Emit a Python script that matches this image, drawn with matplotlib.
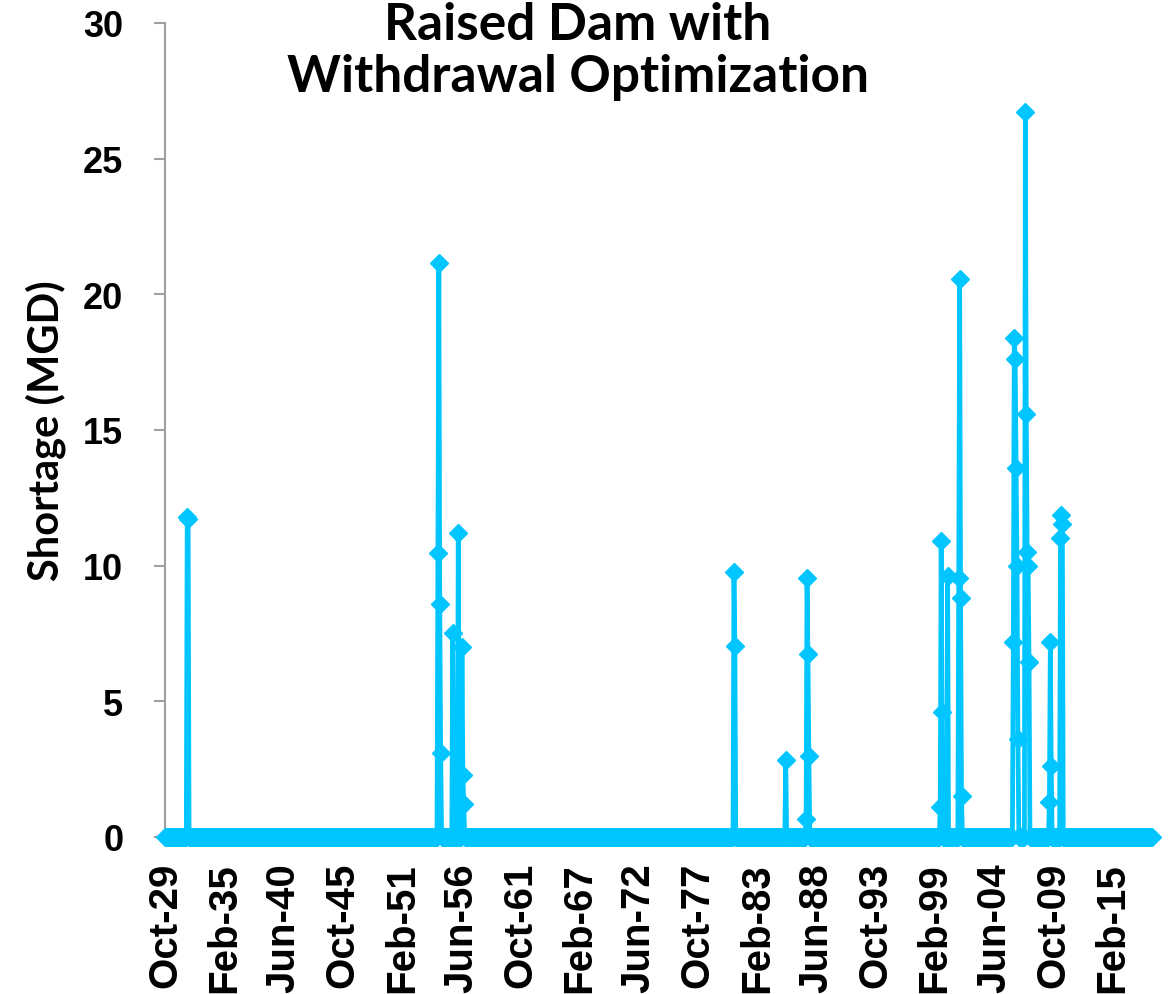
import numpy as np
import pandas as pd
import matplotlib
matplotlib.use("Agg")
import matplotlib.pyplot as plt

# monthly record, Oct 1929 - Sep 2018
months = pd.date_range("1929-10-01", "2018-09-01", freq="MS")

# months with a non-zero shortage (all other months are 0)
shortage_month = [
    "1931-10", "1931-11",
    "1954-05", "1954-06", "1954-07", "1954-08",
    "1955-09",
    "1956-03", "1956-07", "1956-08", "1956-09",
    "1981-01", "1981-02",
    "1985-09",
    "1987-07", "1987-08", "1987-09", "1987-10",
    "1999-08", "1999-09", "1999-10",
    "2000-04",
    "2001-04", "2001-05", "2001-06", "2001-07",
    "2006-03", "2006-04", "2006-05", "2006-06", "2006-07", "2006-08",
    "2007-04", "2007-05", "2007-06", "2007-07", "2007-08",
    "2009-06", "2009-07", "2009-08",
    "2010-06", "2010-07", "2010-08",
]
shortage_mgd = [
    11.8, 11.7,
    10.45, 21.15, 8.6, 3.1,
    7.5,
    11.2, 7.0, 2.3, 1.2,
    9.75, 7.05,
    2.85,
    0.65, 9.55, 6.75, 3.0,
    1.1, 10.9, 4.6,
    9.6,
    9.55, 20.55, 8.8, 1.5,
    7.2, 18.4, 17.6, 13.6, 10.0, 3.6,
    26.7, 15.6, 10.5, 10.0, 6.45,
    1.3, 7.2, 2.6,
    11.0, 11.85, 11.55,
]

series = pd.Series(0.0, index=months)
series[pd.to_datetime(shortage_month)] = shortage_mgd
x = np.arange(len(series))

tick_step = 64
tick_pos = x[::tick_step]
tick_lab = [d.strftime("%b-%y") for d in months[::tick_step]]

fig = plt.figure(figsize=(11.72, 9.95), dpi=100)
ax = fig.add_axes([0.1408, 0.1578, 0.8422, 0.8182])

blue = "#00C5FF"
ax.plot(x, series.values, color=blue, lw=3.4, marker="D", ms=9.5,
        mec=blue, mfc=blue, clip_on=False, zorder=3)

ax.set_xlim(0, len(x) - 1)
ax.set_ylim(0, 30)
ax.set_yticks(np.arange(0, 31, 5))
ax.set_xticks(tick_pos)

ax.set_yticklabels([str(v) for v in range(0, 31, 5)],
                   family="Liberation Sans", weight="bold", size=26)
ax.set_xticklabels(tick_lab, rotation=90,
                   family="Liberation Sans", weight="bold", size=29)

for s in ["top", "right", "bottom"]:
    ax.spines[s].set_visible(False)
ax.spines["left"].set_color("#A0A0A0")
ax.spines["left"].set_linewidth(1.5)
ax.tick_params(axis="y", length=8, width=1.5, color="#A0A0A0", pad=22)
ax.tick_params(axis="x", length=6, width=1.5, color="#A0A0A0", pad=12)

ax.set_ylabel("Shortage (MGD)", family="Lato", weight="bold", size=30, labelpad=12)

fig.text(0.493, 0.998, "Raised Dam with\nWithdrawal Optimization", ha="center", va="top",
         family="Lato", weight="bold", size=37, linespacing=1.12)

fig.savefig("out.png", dpi=100)
